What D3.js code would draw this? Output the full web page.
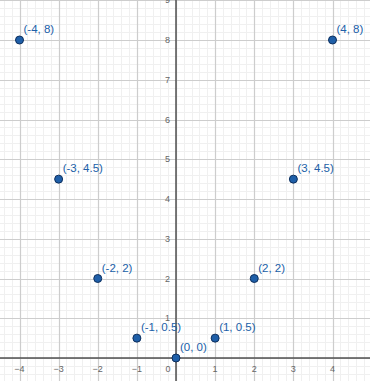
<!DOCTYPE html>
<html>
<head>
<meta charset="utf-8">
<script src="https://cdn.jsdelivr.net/npm/d3@7"></script>
<style>
  html, body { margin: 0; padding: 0; background: #fff; }
  svg { display: block; }
</style>
</head>
<body>
<div id="graph"></div>
<script>
var point_x = [-4, -3, -2, -1, 0, 1, 2, 3, 4];
var point_y = [8, 4.5, 2, 0.5, 0, 0.5, 2, 4.5, 8];
var x_ticks = [-4, -3, -2, -1, 0, 1, 2, 3, 4];
var y_ticks = [1, 2, 3, 4, 5, 6, 7, 8, 9];

var w = 370, h = 381;

var svg = d3.select('#graph').append('svg')
    .attr('width', w)
    .attr('height', h);

// origin sits at (176, 358); about 39 px per unit
var x = d3.scaleLinear().domain([-4, 4]).range([19.5, 332.5]);
var y = d3.scaleLinear().domain([0, 8]).range([358, 40]);

var xmin = x.invert(0), xmax = x.invert(w),
    ymin = y.invert(h), ymax = y.invert(0);

// minor grid, 5 per unit
var minor_x = d3.range(Math.ceil(xmin * 5), Math.floor(xmax * 5) + 1).map(function(d) { return d / 5; });
var minor_y = d3.range(Math.ceil(ymin * 5), Math.floor(ymax * 5) + 1).map(function(d) { return d / 5; });

svg.append('g').selectAll('line').data(minor_x).enter().append('line')
    .attr('x1', function(d) { return Math.round(x(d)) + 0.5; })
    .attr('x2', function(d) { return Math.round(x(d)) + 0.5; })
    .attr('y1', 0).attr('y2', h)
    .attr('stroke', '#f0f0f0').attr('stroke-width', 1);

svg.append('g').selectAll('line').data(minor_y).enter().append('line')
    .attr('y1', function(d) { return Math.round(y(d)) + 0.5; })
    .attr('y2', function(d) { return Math.round(y(d)) + 0.5; })
    .attr('x1', 0).attr('x2', w)
    .attr('stroke', '#f0f0f0').attr('stroke-width', 1);

// major grid
var major_x = d3.range(Math.ceil(xmin), Math.floor(xmax) + 1);
var major_y = d3.range(Math.ceil(ymin), Math.floor(ymax) + 1);

svg.append('g').selectAll('line').data(major_x).enter().append('line')
    .attr('x1', function(d) { return Math.round(x(d)) + 0.5; })
    .attr('x2', function(d) { return Math.round(x(d)) + 0.5; })
    .attr('y1', 0).attr('y2', h)
    .attr('stroke', '#cdcdcd').attr('stroke-width', 1.2);

svg.append('g').selectAll('line').data(major_y).enter().append('line')
    .attr('y1', function(d) { return Math.round(y(d)) + 0.5; })
    .attr('y2', function(d) { return Math.round(y(d)) + 0.5; })
    .attr('x1', 0).attr('x2', w)
    .attr('stroke', '#cdcdcd').attr('stroke-width', 1.2);

// axes
svg.append('line')
    .attr('x1', 0).attr('x2', w)
    .attr('y1', y(0)).attr('y2', y(0))
    .attr('stroke', '#505050').attr('stroke-width', 1.5);

svg.append('line')
    .attr('x1', x(0)).attr('x2', x(0))
    .attr('y1', 0).attr('y2', h)
    .attr('stroke', '#505050').attr('stroke-width', 1.5);

// tick labels
function fmt(d) { return d < 0 ? '\u2212' + Math.abs(d) : String(d); }

svg.append('g').selectAll('text').data(x_ticks).enter().append('text')
    .attr('x', function(d) { return d === 0 ? x(0) - 8 : x(d); })
    .attr('y', y(0) + 14)
    .attr('text-anchor', 'middle')
    .attr('font-family', 'Arial, "Liberation Sans", sans-serif')
    .attr('font-size', 9)
    .attr('fill', '#666')
    .text(fmt);

svg.append('g').selectAll('text').data(y_ticks).enter().append('text')
    .attr('x', x(0) - 6)
    .attr('y', function(d) { return y(d) + 3; })
    .attr('text-anchor', 'end')
    .attr('font-family', 'Arial, "Liberation Sans", sans-serif')
    .attr('font-size', 9)
    .attr('fill', '#666')
    .text(fmt);

// points
var pts = point_x.map(function(d, i) { return {x: d, y: point_y[i]}; });

svg.append('g').selectAll('circle').data(pts).enter().append('circle')
    .attr('cx', function(d) { return x(d.x); })
    .attr('cy', function(d) { return y(d.y); })
    .attr('r', 4)
    .attr('fill', '#1f5fa8')
    .attr('stroke', '#0d2f5e')
    .attr('stroke-width', 1);

svg.append('g').selectAll('text').data(pts).enter().append('text')
    .attr('x', function(d) { return x(d.x) + 4; })
    .attr('y', function(d) { return y(d.y) - 7; })
    .attr('font-family', 'Arial, "Liberation Sans", sans-serif')
    .attr('font-size', 11.5)
    .attr('fill', '#2060a8')
    .text(function(d) { return '(' + d.x + ', ' + d.y + ')'; });
</script>
</body>
</html>
